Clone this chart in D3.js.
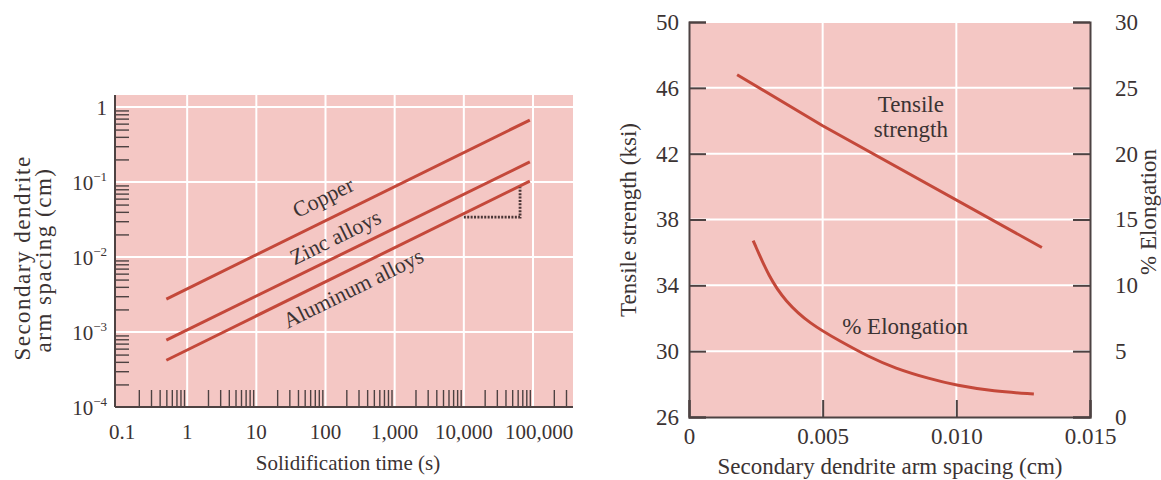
<!DOCTYPE html>
<html>
<head>
<meta charset="utf-8">
<script src="https://cdn.jsdelivr.net/npm/d3@7"></script>
<style>
  body { margin: 0; background: #fff; }
  svg text { font-family: "Liberation Serif", "Times New Roman", serif; fill: #3b3333; }
</style>
</head>
<body>
<svg id="chart" width="1161" height="480"></svg>
<script>
// ---- left chart: dendrite arm spacing vs solidification time ----
const timeTicks = [0.1, 1, 10, 100, 1000, 10000, 100000];
const timeTickLabels = ['0.1', '1', '10', '100', '1,000', '10,000', '100,000'];
const spacingTicks = [1e-4, 1e-3, 1e-2, 1e-1, 1];
const spacingTickBase = ['10', '10', '10', '10', '1'];
const spacingTickExp = ['\u22124', '\u22123', '\u22122', '\u22121', ''];

const alloys = ['Copper', 'Zinc alloys', 'Aluminum alloys'];
const solidTime = [0.5, 90000];
const copperSpacing = [0.00275, 0.67];
const zincSpacing = [0.00078, 0.185];
const aluminumSpacing = [0.00042, 0.103];
// slope triangle under the aluminum line
const triangleTime = [10000, 65000];
const triangleSpacing = [0.034, 0.085];

// ---- right chart: properties vs arm spacing ----
const dasTicks = [0, 0.005, 0.010, 0.015];
const dasTickLabels = ['0', '0.005', '0.010', '0.015'];
const ksiTicks = [26, 30, 34, 38, 42, 46, 50];
const elongTicks = [0, 5, 10, 15, 20, 25, 30];

const tensileDas = [0.0018, 0.005, 0.0132];
const tensileKsi = [46.8, 43.7, 36.3];
const elongDas = [0.0024, 0.0030, 0.0036, 0.0045, 0.0057, 0.0067, 0.0077, 0.0090, 0.0100, 0.0114, 0.0129];
const elongPct = [13.4, 10.6, 8.8, 7.1, 5.7, 4.6, 3.7, 2.9, 2.4, 1.95, 1.75];

const pink = '#f4c7c4';
const lineColor = '#c4483a';
const axisColor = '#4d4242';

const svg = d3.select('#chart');

// ================= left chart =================
const L = { left: 115, right: 573, top: 95, bottom: 407 };
const xT = d3.scaleLog().domain([0.1, 1e5]).range([118, 533]);
const yS = d3.scaleLog().domain([1e-4, 1]).range([407, 107]);

const g1 = svg.append('g');
g1.append('rect')
    .attr('x', L.left).attr('y', L.top)
    .attr('width', L.right - L.left).attr('height', L.bottom - L.top)
    .attr('fill', pink);

// white grid
g1.selectAll('.hgrid').data(spacingTicks.slice(1)).enter().append('line')
    .attr('x1', L.left).attr('x2', L.right)
    .attr('y1', d => yS(d)).attr('y2', d => yS(d))
    .attr('stroke', '#fff').attr('stroke-width', 2);
g1.selectAll('.vgrid').data(timeTicks.slice(1)).enter().append('line')
    .attr('x1', d => xT(d)).attr('x2', d => xT(d))
    .attr('y1', L.top).attr('y2', L.bottom)
    .attr('stroke', '#fff').attr('stroke-width', 2);

// minor ticks
const xMinor = [];
for (let e = -1; e <= 5; e++) {
    for (let m = 2; m <= 9; m++) {
        const v = m * Math.pow(10, e);
        if (xT(v) < L.right - 2) xMinor.push(v);
    }
}
const yMinor = [];
for (let e = -4; e < 0; e++) {
    for (let m = 2; m <= 9; m++) yMinor.push(m * Math.pow(10, e));
}

const xMinorAxis = g1.append('g')
    .attr('transform', `translate(0,${L.bottom})`)
    .call(d3.axisBottom(xT).tickValues(xMinor).tickSize(-17).tickFormat(''));
const yMinorAxis = g1.append('g')
    .attr('transform', `translate(${L.left},0)`)
    .call(d3.axisLeft(yS).tickValues(yMinor).tickSize(-14).tickFormat(''));
[xMinorAxis, yMinorAxis].forEach(a => {
    a.select('.domain').remove();
    a.selectAll('.tick line').attr('stroke', axisColor).attr('stroke-width', 1.4);
});

// axis lines
g1.append('line').attr('x1', L.left).attr('x2', L.left).attr('y1', L.top).attr('y2', L.bottom)
    .attr('stroke', axisColor).attr('stroke-width', 2);
g1.append('line').attr('x1', L.left).attr('x2', L.right).attr('y1', L.bottom).attr('y2', L.bottom)
    .attr('stroke', axisColor).attr('stroke-width', 2);

// tick labels
g1.selectAll('.xlab').data(timeTicks).enter().append('text')
    .attr('x', (d, i) => xT(d) + (i === 0 ? 4 : i === 6 ? 6 : 0))
    .attr('y', 439)
    .attr('text-anchor', 'middle')
    .attr('font-size', 21)
    .text((d, i) => timeTickLabels[i]);

const yl = g1.selectAll('.ylab').data(spacingTicks).enter().append('text')
    .attr('x', 107)
    .attr('y', d => yS(d) + 8)
    .attr('text-anchor', 'end')
    .attr('font-size', 21);
yl.append('tspan').text((d, i) => spacingTickBase[i]);
yl.append('tspan')
    .attr('dy', -9)
    .attr('font-size', 13)
    .text((d, i) => spacingTickExp[i]);

// titles
g1.append('text')
    .attr('x', 348).attr('y', 470)
    .attr('text-anchor', 'middle').attr('font-size', 21)
    .text('Solidification time (s)');
g1.append('text')
    .attr('transform', 'translate(30,258) rotate(-90)')
    .attr('text-anchor', 'middle').attr('font-size', 23).attr('letter-spacing', 1.5)
    .text('Secondary dendrite');
g1.append('text')
    .attr('transform', 'translate(51,260) rotate(-90)')
    .attr('text-anchor', 'middle').attr('font-size', 23).attr('letter-spacing', 1.5)
    .text('arm spacing (cm)');

// lines
const alloySeries = [copperSpacing, zincSpacing, aluminumSpacing];
const lineL = d3.line().x(d => xT(d[0])).y(d => yS(d[1]));
g1.selectAll('.alloy').data(alloySeries).enter().append('path')
    .attr('d', s => lineL(solidTime.map((t, i) => [t, s[i]])))
    .attr('fill', 'none').attr('stroke', lineColor).attr('stroke-width', 3);

// slope triangle
g1.append('path')
    .attr('d', lineL([
        [triangleTime[0], triangleSpacing[0]],
        [triangleTime[1], triangleSpacing[0]],
        [triangleTime[1], triangleSpacing[1]]
    ]))
    .attr('fill', 'none').attr('stroke', '#4a3636')
    .attr('stroke-width', 2.8).attr('stroke-dasharray', '2,1.4');

// curve labels
const angle = Math.atan2(yS(copperSpacing[1]) - yS(copperSpacing[0]),
    xT(solidTime[1]) - xT(solidTime[0])) * 180 / Math.PI;
const labelAt = [[92, 0.063], [138, 0.0185], [250, 0.00386]];
g1.selectAll('.alloyLab').data(alloys).enter().append('text')
    .attr('transform', (d, i) =>
        `translate(${xT(labelAt[i][0])},${yS(labelAt[i][1])}) rotate(${angle})`)
    .attr('text-anchor', 'middle').attr('dy', '0.35em')
    .attr('font-size', 22)
    .text(d => d);

// ================= right chart =================
const R = { left: 689, right: 1090, top: 22, bottom: 417 };
const xD = d3.scaleLinear().domain([0, 0.015]).range([R.left, R.right]);
const yK = d3.scaleLinear().domain([26, 50]).range([R.bottom, R.top]);
const yE = d3.scaleLinear().domain([0, 30]).range([R.bottom, R.top]);

const g2 = svg.append('g');
g2.append('rect')
    .attr('x', R.left).attr('y', R.top)
    .attr('width', R.right - R.left).attr('height', R.bottom - R.top)
    .attr('fill', pink);

g2.selectAll('.hgrid').data(ksiTicks.slice(1)).enter().append('line')
    .attr('x1', R.left).attr('x2', R.right)
    .attr('y1', d => yK(d)).attr('y2', d => yK(d))
    .attr('stroke', '#fff').attr('stroke-width', 2);
g2.selectAll('.vgrid').data(dasTicks.slice(1, 3)).enter().append('line')
    .attr('x1', d => xD(d)).attr('x2', d => xD(d))
    .attr('y1', R.top).attr('y2', R.bottom)
    .attr('stroke', '#fff').attr('stroke-width', 2);

const axL = g2.append('g').attr('transform', `translate(${R.left},0)`)
    .call(d3.axisLeft(yK).tickValues(ksiTicks).tickSize(-17).tickPadding(10));
const axR = g2.append('g').attr('transform', `translate(${R.right},0)`)
    .call(d3.axisRight(yE).tickValues(elongTicks).tickSize(-17).tickPadding(8));
const axB = g2.append('g').attr('transform', `translate(0,${R.bottom})`)
    .call(d3.axisBottom(xD).tickValues(dasTicks).tickSize(-17).tickPadding(11)
        .tickFormat((d, i) => dasTickLabels[i]));
[axL, axR, axB].forEach(a => {
    a.select('.domain').attr('stroke', axisColor).attr('stroke-width', 2);
    a.selectAll('.tick line').attr('stroke', axisColor).attr('stroke-width', 2);
    a.selectAll('.tick text').attr('font-size', 23)
        .attr('font-family', '"Liberation Serif", "Times New Roman", serif')
        .attr('fill', '#3b3333');
});
axR.selectAll('.tick text').attr('x', 25);

g2.append('text')
    .attr('x', 890).attr('y', 474)
    .attr('text-anchor', 'middle').attr('font-size', 23)
    .text('Secondary dendrite arm spacing (cm)');
g2.append('text')
    .attr('transform', 'translate(636,220) rotate(-90)')
    .attr('text-anchor', 'middle').attr('font-size', 23)
    .text('Tensile strength (ksi)');
g2.append('text')
    .attr('transform', 'translate(1156,212) rotate(-90)')
    .attr('text-anchor', 'middle').attr('font-size', 23)
    .text('% Elongation');

g2.append('path')
    .attr('d', d3.line().x(d => xD(d[0])).y(d => yK(d[1]))(tensileDas.map((x, i) => [x, tensileKsi[i]])))
    .attr('fill', 'none').attr('stroke', lineColor).attr('stroke-width', 3);
g2.append('path')
    .attr('d', d3.line().curve(d3.curveBasis).x(d => xD(d[0])).y(d => yE(d[1]))(elongDas.map((x, i) => [x, elongPct[i]])))
    .attr('fill', 'none').attr('stroke', lineColor).attr('stroke-width', 3);

g2.append('text').attr('x', xD(0.0083)).attr('y', 112)
    .attr('text-anchor', 'middle').attr('font-size', 23).text('Tensile');
g2.append('text').attr('x', xD(0.0083)).attr('y', 137)
    .attr('text-anchor', 'middle').attr('font-size', 23).text('strength');
g2.append('text').attr('x', xD(0.00573)).attr('y', 334)
    .attr('font-size', 23).text('% Elongation');
</script>
</body>
</html>
